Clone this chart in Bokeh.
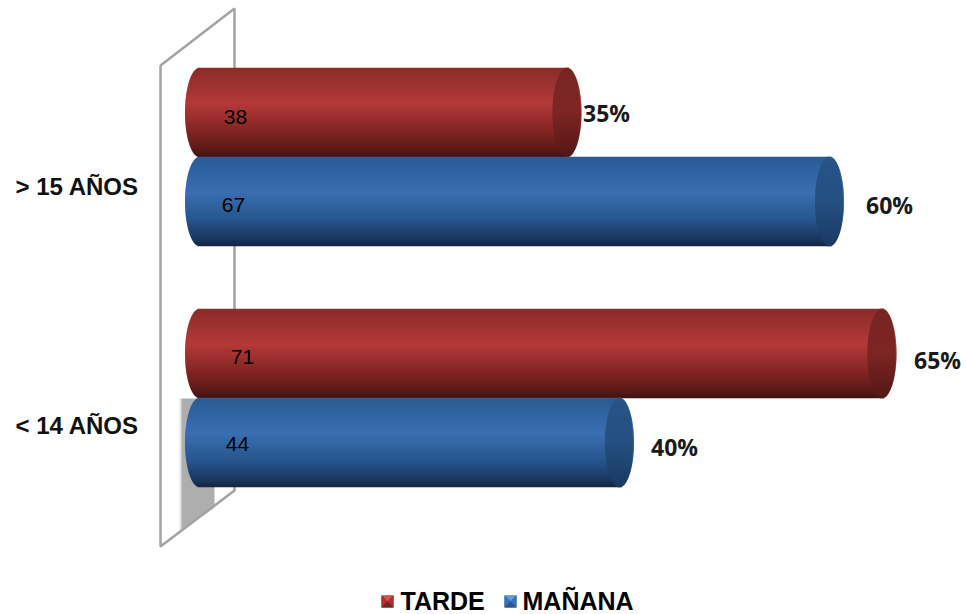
from bokeh.core.properties import value
from bokeh.embed import file_html
from bokeh.models import ColumnDataSource
from bokeh.plotting import figure
from bokeh.resources import INLINE
import numpy as np

# Values
age_groups = ["< 14 AÑOS", "> 15 AÑOS"]
series_names = ["MAÑANA", "TARDE"]
manana_pct = [40, 60]
tarde_pct = [65, 35]
manana_count = [44, 67]
tarde_count = [71, 38]

# Page and scale layout
W, H = 966, 614
X0_PX, PX_PER_PCT = 199.0, 10.5
GROUP_PX = {0: 397.5, 1: 156.5}
BAR_H = 89.0
RX = 14.5


def xd(px):
    return (np.asarray(px, dtype=float) - X0_PX) / PX_PER_PCT


def yd(px):
    return H - np.asarray(px, dtype=float)


def lerp_color(stops, t):
    ts = [s[0] for s in stops]
    rgb = [np.interp(t, ts, [s[1][i] for s in stops]) for i in range(3)]
    return "#%02x%02x%02x" % tuple(int(round(c)) for c in rgb)


RED_STOPS = [(0, (140, 44, 42)), (0.12, (150, 48, 46)), (0.4, (180, 58, 56)),
             (0.7, (132, 38, 36)), (0.92, (90, 26, 24)), (1, (66, 18, 17))]
BLUE_STOPS = [(0, (43, 90, 147)), (0.12, (47, 97, 158)), (0.4, (58, 111, 178)),
              (0.7, (40, 86, 142)), (0.92, (26, 56, 96)), (1, (18, 38, 68))]
RED_CAP = [(0, (122, 38, 36)), (0.5, (124, 38, 36)), (1, (84, 24, 22))]
BLUE_CAP = [(0, (40, 84, 136)), (0.5, (37, 80, 130)), (1, (26, 58, 98))]

p = figure(width=W, height=H, x_range=(float(xd(0)), float(xd(W))), y_range=(0, H),
           x_axis_type=None, y_axis_type=None, toolbar_location=None,
           output_backend="svg", min_border=0, outline_line_color=None,
           background_fill_color="white", border_fill_color="white")
p.xgrid.visible = False
p.ygrid.visible = False

# Back wall of the 3D plot area and the shadow falling on it
p.patch(xd([179, 182, 182, 179]), yd([398, 398, 528, 530]),
        fill_color="#e2e2e2", line_color=None)
p.patch(xd([181, 214, 214, 181]), yd([398, 398, 507, 530]),
        fill_color="#aeaeae", line_color=None)
p.line(xd([160, 234, 234, 160, 160]), yd([65, 8, 490, 546, 65]),
       line_color="#a3a3a3", line_width=2.5)


def cylinder(pct, centre_px, stops, cap_stops):
    """Stack thin horizontal strips into a shaded cylinder lying on its side."""
    x1 = X0_PX + pct * PX_PER_PCT
    n = int(BAR_H)
    edges = np.linspace(centre_px - BAR_H / 2, centre_px + BAR_H / 2, n + 1)
    left, right, top, bottom, color = [], [], [], [], []
    cl, cr, cc = [], [], []
    for i in range(n):
        t = (i + 0.5) / n
        s = np.sqrt(max(0.0, 1 - (2 * t - 1) ** 2))
        left.append(xd(X0_PX - RX * s))
        right.append(xd(x1 + RX * s))
        top.append(yd(edges[i] - 0.3))
        bottom.append(yd(edges[i + 1] + 0.3))
        color.append(lerp_color(stops, t))
        cl.append(xd(x1 - RX * s))
        cr.append(xd(x1 + (RX - 1) * s))
        cc.append(lerp_color(cap_stops, t))
    p.quad(left=left, right=right, top=top, bottom=bottom, fill_color=color, line_color=None)
    p.quad(left=cl, right=cr, top=top, bottom=bottom, fill_color=cc, line_color=None)


# Two cylinders per age group; MAÑANA sits below TARDE
for g in (0, 1):
    cylinder(tarde_pct[g], GROUP_PX[g] - BAR_H / 2, RED_STOPS, RED_CAP)
    cylinder(manana_pct[g], GROUP_PX[g] + BAR_H / 2, BLUE_STOPS, BLUE_CAP)

# Count labels inside the cylinders
count_src = ColumnDataSource(dict(
    x=xd([237, 235, 242, 233]), y=yd([443, 116, 356, 204]),
    t=[str(v) for v in (manana_count[0], tarde_count[1], tarde_count[0], manana_count[1])]))
p.text("x", "y", text="t", source=count_src, text_align="center", text_baseline="middle",
       text_font=value("Liberation Sans"), text_font_size="21px", text_color="#000000")

# Percentage labels beyond the cylinder ends
pct_src = ColumnDataSource(dict(
    x=xd([674, 606, 937, 889]), y=yd([446, 112, 359, 204]),
    t=[f"{v}%" for v in (manana_pct[0], tarde_pct[1], tarde_pct[0], manana_pct[1])]))
p.text("x", "y", text="t", source=pct_src, text_align="center", text_baseline="middle",
       text_font=value("Open Sans"), text_font_style="bold", text_font_size="23px",
       text_color="#1a1a1a")

# Category labels
cat_src = ColumnDataSource(dict(x=xd([15, 15]), y=yd([425, 186]), t=age_groups))
p.text("x", "y", text="t", source=cat_src, text_align="left", text_baseline="middle",
       text_font=value("Liberation Sans"), text_font_style="bold", text_font_size="24px",
       text_color="#111111")


def swatch(x, y, size, light, mid, dark, edge):
    """Small bevelled legend key built from four facing triangles."""
    x0, x1, y0, y1 = x, x + size, y, y + size
    cx, cy = x + size / 2, y + size / 2
    p.patch(xd([x0, x1, x1, x0]), yd([y0, y0, y1, y1]), fill_color=edge, line_color=None)
    p.patch(xd([x0, x1, cx]), yd([y0, y0, cy]), fill_color=light, line_color=None)
    p.patch(xd([x0, cx, x0]), yd([y0, cy, y1]), fill_color=mid, line_color=None)
    p.patch(xd([x1, cx, x1]), yd([y0, cy, y1]), fill_color=mid, line_color=None)
    p.patch(xd([x0, x1, cx]), yd([y1, y1, cy]), fill_color=dark, line_color=None)


# Legend
swatch(381, 595, 12, "#d9504c", "#a8322f", "#7a2321", "#7a2321")
swatch(504, 595, 12, "#5b9bdc", "#3a70b5", "#2a5890", "#2a5890")
leg_src = ColumnDataSource(dict(x=xd([400, 522]), y=yd([600, 600]),
                                t=[series_names[1], series_names[0]]))
p.text("x", "y", text="t", source=leg_src, text_align="left", text_baseline="middle",
       text_font=value("Liberation Sans"), text_font_style="bold", text_font_size="25px",
       text_color="#000000")

open("out.html", "w").write(file_html(p, INLINE))
